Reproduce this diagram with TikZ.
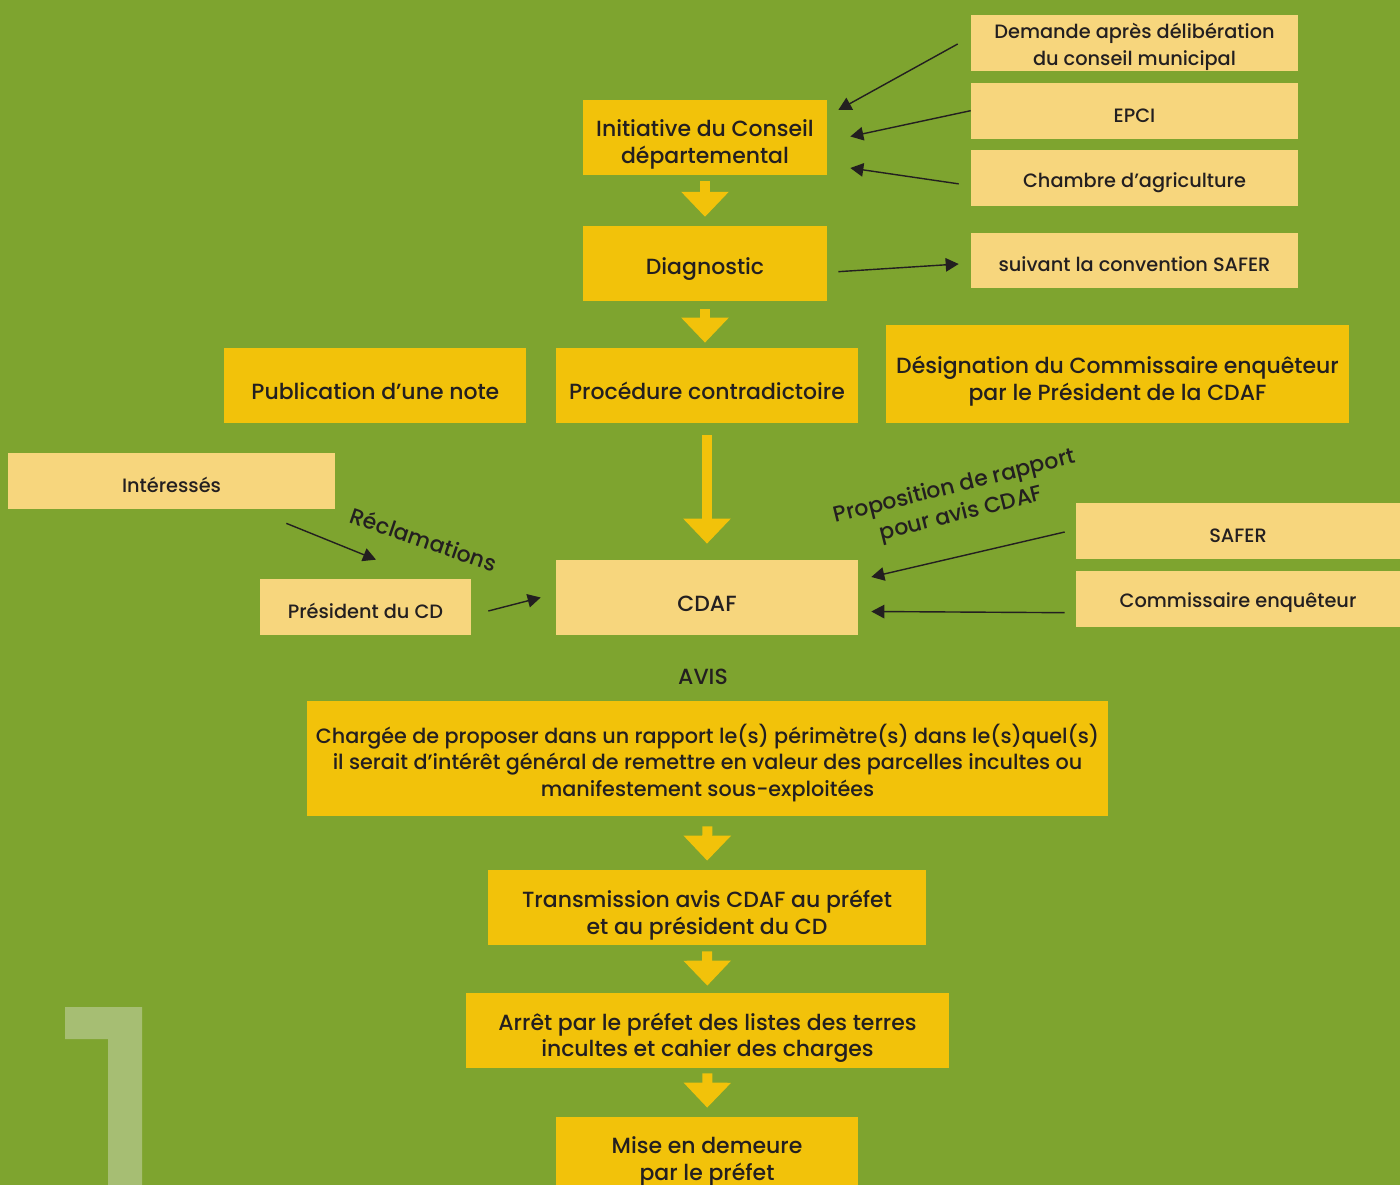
\documentclass[tikz,border=0pt]{standalone}
\usepackage{fontspec}
\setmainfont{Poppins Medium}
\usepackage{tikz}
\usetikzlibrary{arrows.meta, positioning, calc}
\definecolor{pagegreen}{HTML}{7EA42F}
\definecolor{boxgold}{HTML}{F2C20A}
\definecolor{boxpale}{HTML}{F7D67D}
\definecolor{onegreen}{HTML}{A6BE73}
\definecolor{inkdark}{HTML}{231F20}
\tikzset{every node/.append style={align=center, inner sep=0pt}}

\begin{document}
\begin{tikzpicture}[x=0.02cm, y=-0.02cm,
    lift/.style={execute at begin node={\rule{0pt}{#1}}},
    gb/.style={rectangle, fill=boxgold, text=inkdark, minimum height=1.5cm, font=\fontsize{12.5}{15.3}\selectfont, lift=16pt},
    pb/.style={rectangle, fill=boxpale, text=inkdark, minimum width=6.54cm, minimum height=1.12cm, font=\fontsize{11}{15.3}\selectfont, lift=13pt},
    ln/.style={-{Triangle[length=0.26cm, width=0.27cm]}, line width=0.8pt, inkdark},
    ya/.style={-{Triangle[length=0.5cm, width=0.92cm]}, line width=0.2cm, boxgold},
    lbl/.style={text=inkdark, font=\fontsize{12.5}{16}\selectfont}]
\fill[pagegreen] (0,0) rectangle (1400,1185);
\useasboundingbox (0,0) rectangle (1400,1185);
\clip (0,0) rectangle (1400,1185);
\fill[onegreen] (65,1007) -- (142,1007) -- (142,1185) -- (108,1185) -- (108,1039) -- (65,1039) -- cycle;
% main column
\node[gb, minimum width=4.88cm, lift=32.4pt] (ini) at (705,137.5) {Initiative du Conseil\\départemental};
\node[gb, minimum width=4.88cm, below=1cm of ini] (diag) {Diagnostic};
\node[gb, minimum width=6.04cm] (proc) at (707,385.5) {Procédure contradictoire};
\node[gb, minimum width=6.04cm, left=0.58cm of proc] (pub) {Publication d’une note};
\node[gb, minimum width=9.26cm, minimum height=1.96cm, lift=33.5pt] (desig) at (1117.5,374) {Désignation du Commissaire enquêteur\\par le Président de la CDAF};
\node[pb, minimum width=6.04cm, minimum height=1.5cm, font=\fontsize{12.5}{15.3}\selectfont, lift=16pt] (cdaf) at (707,597.5) {CDAF};
\node[lbl] (avis) at (703,677) {AVIS};
\node[gb, minimum width=16.02cm, minimum height=2.3cm, font=\fontsize{11.8}{15}\selectfont, lift=46pt] (charg) at (707.5,758.5) {Chargée de proposer dans un rapport le(s) périmètre(s) dans le(s)quel(s)\\il serait d’intérêt général de remettre en valeur des parcelles incultes ou\\manifestement sous-exploitées};
\node[gb, minimum width=8.76cm, lift=33.5pt] (trans) at (707,907.5) {Transmission avis CDAF au préfet\\et au président du CD};
\node[gb, minimum width=9.66cm, lift=33.5pt] (arret) at (707.5,1030.5) {Arrêt par le préfet des listes des terres\\incultes et cahier des charges};
\node[gb, minimum width=6.04cm, lift=32.5pt] (mise) at (707,1154.5) {Mise en demeure\\par le préfet};
% side boxes
\node[pb, lift=28.7pt] (dem) at (1134.5,43) {Demande après délibération\\du conseil municipal};
\node[pb, below=0.22cm of dem] (epci) {EPCI};
\node[pb, below=0.22cm of epci] (chamb) {Chambre d’agriculture};
\node[pb] (conv) at (1134.5,260.5) {suivant la convention SAFER};
\node[pb] (inter) at (171.5,481) {Intéressés};
\node[pb, minimum width=4.22cm] (pres) at (365.5,607) {Président du CD};
\node[pb, minimum width=6.48cm] (safer) at (1238,531) {SAFER};
\node[pb, minimum width=6.48cm, below=0.22cm of safer] (comm) {Commissaire enquêteur};
% labels on arrows
\node[lbl, rotate=-19] (recl) at (424,539) {Réclamations};
\node[lbl, rotate=14] (prop) at (958,501) {Proposition de rapport\\pour avis CDAF};
% yellow arrows
\draw[ya, shorten <=0.12cm, shorten >=0.17cm] (ini) -- (diag);
\draw[ya, shorten <=0.16cm, shorten >=0.1cm] (diag.south) -- (diag.south |- proc.north);
\draw[ya, shorten <=0.24cm, shorten >=0.32cm] (proc) -- (cdaf);
\draw[ya, shorten <=0.2cm, shorten >=0.18cm] (charg) -- (trans);
\draw[ya, shorten <=0.12cm, shorten >=0.14cm] (trans) -- (arret);
\draw[ya, shorten <=0.1cm, shorten >=0.18cm] (arret) -- (mise);
% black arrows
\draw[ln] ($(dem.west)+(-13,1)$) -- ($(ini.east)+(11,-27.5)$);
\draw[ln] (epci.west) -- ($(ini.east)+(23,-1)$);
\draw[ln] ($(chamb.west)+(-12,5.5)$) -- ($(ini.east)+(23,30.5)$);
\draw[ln] ($(diag.east)+(11,8.5)$) -- ($(conv.west)+(-12,3.5)$);
\draw[ln] ($(inter.south east)+(-49,14)$) -- ($(pres.north)+(10.5,-19)$);
\draw[ln] ($(pres.east)+(17,4)$) -- ($(cdaf.west)+(-15,0)$);
\draw[ln] ($(safer.west)+(-11,1)$) -- ($(cdaf.east)+(13,-20.5)$);
\draw[ln] ($(comm.west)+(-11,14)$) -- ($(cdaf.east)+(13,14)$);
\end{tikzpicture}
\end{document}
